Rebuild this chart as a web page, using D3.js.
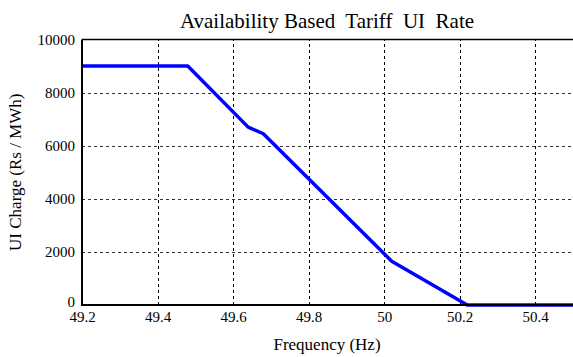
<!DOCTYPE html>
<html>
<head>
<meta charset="utf-8">
<script src="https://cdn.jsdelivr.net/npm/d3@7/dist/d3.min.js"></script>
<style>
  html, body { margin: 0; padding: 0; background: #fff; }
  svg text { font-family: "Liberation Serif", "Times New Roman", serif !important; fill: #000; }
</style>
</head>
<body>
<svg id="chart" width="573" height="357"></svg>
<script>
// UI charge curve: frequency (Hz) vs charge (Rs / MWh)
const frequency = [49.2, 49.48, 49.64, 49.68, 50.02, 50.22, 50.5];
const uiCharge  = [9000, 9000, 6700, 6450, 1650, 0, 0];

const xTicks = [49.2, 49.4, 49.6, 49.8, 50, 50.2, 50.4];
const yTicks = [0, 2000, 4000, 6000, 8000, 10000];

const titleText = "Availability Based\u00A0 Tariff\u00A0 UI\u00A0 Rate";
const xLabel = "Frequency (Hz)";
const yLabel = "UI Charge (Rs / MWh)";

const svg = d3.select("#chart");
const W = 573, H = 357;
const m = { left: 82, right: 0, top: 39.5, bottom: 52 };
const serif = "'Liberation Serif', 'Times New Roman', serif";

const x = d3.scaleLinear().domain([49.2, 50.5]).range([m.left, W - m.right]);
const y = d3.scaleLinear().domain([0, 10000]).range([H - m.bottom, m.top]);

// grid
const grid = svg.append("g");
grid.selectAll("line.v").data(xTicks.slice(1)).join("line")
  .attr("x1", d => Math.round(x(d)) + 0.5).attr("x2", d => Math.round(x(d)) + 0.5)
  .attr("y1", y(0)).attr("y2", y(10000))
  .attr("stroke", "#000").attr("stroke-width", 1)
  .attr("stroke-dasharray", "3,3");
grid.selectAll("line.h").data(yTicks.slice(1, -1)).join("line")
  .attr("x1", x(49.2)).attr("x2", W)
  .attr("y1", d => Math.round(y(d)) + 0.5).attr("y2", d => Math.round(y(d)) + 0.5)
  .attr("stroke", "#333").attr("stroke-width", 1)
  .attr("stroke-dasharray", "3,3");

// axes
const xAxis = svg.append("g")
  .attr("transform", `translate(0,${y(0)})`)
  .call(d3.axisBottom(x).tickValues(xTicks).tickSize(0).tickPadding(6)
    .tickFormat(d3.format("")));
const yAxis = svg.append("g")
  .attr("transform", `translate(${x(49.2)},0)`)
  .call(d3.axisLeft(y).tickValues(yTicks).tickSize(0).tickPadding(7)
    .tickFormat(d3.format("")));
[xAxis, yAxis].forEach(a => {
  a.select(".domain").remove();
  a.attr("font-family", serif).attr("font-size", 15);
  a.selectAll("text").style("font-family", serif).style("font-size", "15px");
});
// the zero label sits just above the x tick labels
yAxis.selectAll(".tick").filter(d => d === 0).select("text").attr("dy", "0.1em");

// frame
svg.append("line").attr("x1", x(49.2)).attr("x2", W)
  .attr("y1", y(10000)).attr("y2", y(10000))
  .attr("stroke", "#000").attr("stroke-width", 1.5);

// data line
const line = d3.line().x((d, i) => x(frequency[i])).y(d => y(d));
svg.append("path").datum(uiCharge)
  .attr("d", line)
  .attr("fill", "none").attr("stroke", "#0000ff")
  .attr("stroke-width", 3.5).attr("stroke-linejoin", "round");

svg.append("line").attr("x1", x(49.2)).attr("x2", W)
  .attr("y1", y(0)).attr("y2", y(0))
  .attr("stroke", "#000").attr("stroke-width", 2);
svg.append("line").attr("x1", x(49.2)).attr("x2", x(49.2))
  .attr("y1", y(0) + 1).attr("y2", y(10000))
  .attr("stroke", "#000").attr("stroke-width", 2);

// labels
svg.append("text").attr("x", 327).attr("y", 28)
  .attr("text-anchor", "middle").style("font-size", "21px").text(titleText);
svg.append("text").attr("x", 327).attr("y", 350)
  .attr("text-anchor", "middle").style("font-size", "17px").text(xLabel);
svg.append("text")
  .attr("transform", `translate(21,${(y(0) + y(10000)) / 2}) rotate(-90)`)
  .attr("text-anchor", "middle").style("font-size", "17px").text(yLabel);
</script>
</body>
</html>
